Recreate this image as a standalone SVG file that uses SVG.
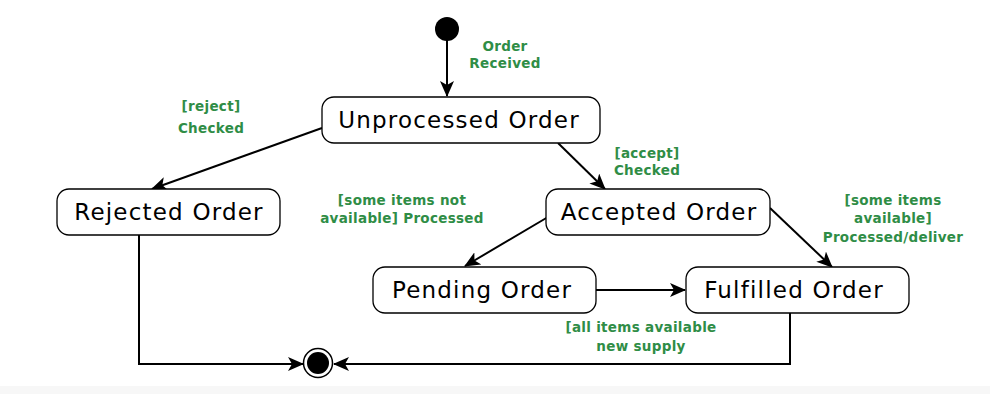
<svg xmlns="http://www.w3.org/2000/svg" width="990" height="394" viewBox="0 0 990 394">
  <defs>
    <marker id="arrow" viewBox="0 0 16 14" refX="15" refY="7" markerWidth="16" markerHeight="14" markerUnits="userSpaceOnUse" orient="auto">
      <path d="M0,0 L16,7 L0,14 L4,7 Z" fill="#000"/>
    </marker>
    <style>
      .state rect { fill: #fff; stroke: #000; stroke-width: 1.3; }
      .state text { font-family: "DejaVu Sans", "Noto Sans", sans-serif; font-size: 23px; letter-spacing: 1.2px; fill: #000; text-anchor: middle; }
      .label { font-family: "DejaVu Sans", "Noto Sans", sans-serif; font-size: 13.5px; letter-spacing: 0.3px; font-weight: bold; fill: #2f8d46; text-anchor: middle; }
      .edge { fill: none; stroke: #000; stroke-width: 2; marker-end: url(#arrow); }
    </style>
  </defs>
  <rect x="0" y="0" width="990" height="394" fill="#fff"/>
  <rect x="0" y="386" width="990" height="8" fill="#f7f7f7"/>

  <g id="connectors">
    <path class="edge" d="M447,40 L447,96"/>
    <path class="edge" d="M322,128 L152,189"/>
    <path class="edge" d="M558,143 L605,189"/>
    <path class="edge" d="M548,217 L465,266"/>
    <path class="edge" d="M770,208 L832,267"/>
    <path class="edge" d="M596,290 L685,290"/>
    <path class="edge" d="M139,235 L139,364 L303,364"/>
    <path class="edge" d="M790,313 L790,364 L334,364"/>
  </g>

  <g id="labels">
    <text class="label" x="505" y="51">Order</text>
    <text class="label" x="505" y="68">Received</text>
    <text class="label" x="211" y="111">[reject]</text>
    <text class="label" x="211" y="133">Checked</text>
    <text class="label" x="647" y="158">[accept]</text>
    <text class="label" x="647" y="175">Checked</text>
    <text class="label" x="402" y="205">[some items not</text>
    <text class="label" x="402" y="223">available] Processed</text>
    <text class="label" x="893" y="205">[some items</text>
    <text class="label" x="893" y="223">available]</text>
    <text class="label" x="893" y="242">Processed/deliver</text>
    <text class="label" x="641" y="332">[all items available</text>
    <text class="label" x="641" y="351">new supply</text>
  </g>

  <g id="initial">
    <circle cx="447" cy="29" r="12" fill="#000"/>
  </g>

  <g id="unprocessed" class="state">
    <rect x="322" y="97" width="278" height="46" rx="12"/>
    <text x="459" y="128">Unprocessed Order</text>
  </g>

  <g id="rejected" class="state">
    <rect x="57" y="189" width="223" height="46" rx="12"/>
    <text x="169" y="220">Rejected Order</text>
  </g>

  <g id="accepted" class="state">
    <rect x="546" y="189" width="224" height="46" rx="12"/>
    <text x="659" y="220">Accepted Order</text>
  </g>

  <g id="pending" class="state">
    <rect x="373" y="267" width="223" height="46" rx="12"/>
    <text x="482" y="298">Pending Order</text>
  </g>

  <g id="fulfilled" class="state">
    <rect x="686" y="267" width="223" height="46" rx="12"/>
    <text x="794" y="298">Fulfilled Order</text>
  </g>

  <g id="final">
    <circle cx="318" cy="363" r="14.5" fill="#fff" stroke="#000" stroke-width="1.5"/>
    <circle cx="318" cy="363" r="11" fill="#000"/>
  </g>
</svg>
